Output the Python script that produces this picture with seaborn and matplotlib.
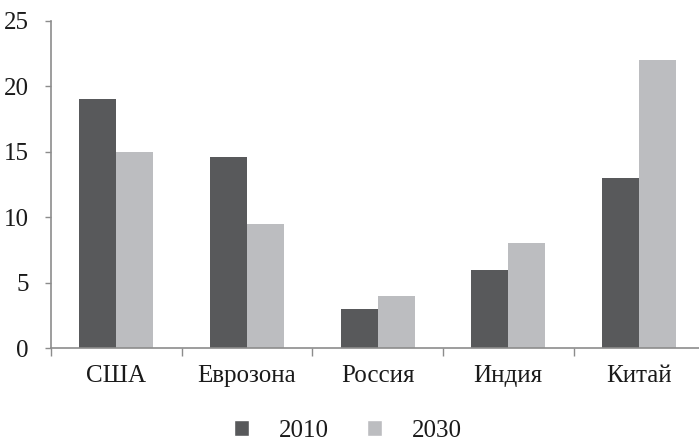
import numpy as np
import pandas as pd
import matplotlib
matplotlib.use("Agg")
import matplotlib.pyplot as plt
from matplotlib.patches import Patch
import seaborn as sns

# ── data ──────────────────────────────────────────────
regions = ["США", "Еврозона", "Россия", "Индия", "Китай"]
years = ["2010", "2030"]
vals_2010 = [19, 14.6, 3, 6, 13]
vals_2030 = [15, 9.5, 4, 8, 22]

DARK = "#58595b"
LIGHT = "#bcbdc0"
AXIS = "#8c8c8c"

df = pd.DataFrame({
    "region": regions * 2,
    "year": [years[0]] * len(regions) + [years[1]] * len(regions),
    "value": vals_2010 + vals_2030,
})

sns.set_style("white")
plt.rcParams["font.family"] = ["Liberation Serif", "DejaVu Serif"]
FS = 18

fig = plt.figure(figsize=(6.99, 4.44), dpi=100)
ax = fig.add_axes([0.073, 0.216, 0.927, 0.737])

sns.barplot(data=df, x="region", y="value", hue="year", order=regions,
            hue_order=years, palette=[DARK, LIGHT], width=0.567, gap=0,
            saturation=1, linewidth=0, ax=ax, legend=False)

ax.set_ylim(0, 25)
ax.set_yticks([0, 5, 10, 15, 20, 25])
ax.set_xlim(-0.5, 4.46)
ax.set_xlabel("")
ax.set_ylabel("")

# category boundaries as tick marks, labels as minor ticks at centres
ax.set_xticks(np.arange(len(regions)) - 0.5)
ax.set_xticklabels([])
ax.set_xticks(np.arange(len(regions)), minor=True)
ax.set_xticklabels(regions, minor=True)
ax.tick_params(axis="x", which="major", length=6, width=1, color=AXIS,
               direction="out", bottom=True)
ax.tick_params(axis="x", which="minor", length=0, pad=12, labelsize=FS,
               colors="#1a1a1a")
ax.tick_params(axis="y", length=4, width=1, color=AXIS, direction="out",
               left=True, pad=12, labelsize=FS, labelcolor="#1a1a1a")

for side in ["top", "right"]:
    ax.spines[side].set_visible(False)
for side in ["left", "bottom"]:
    ax.spines[side].set_color(AXIS)
    ax.spines[side].set_linewidth(1.2)

handles = [Patch(facecolor=DARK, label=years[0]),
           Patch(facecolor=LIGHT, label=years[1])]
leg = fig.legend(handles=handles, loc="center", bbox_to_anchor=(0.498, 0.03),
                 ncol=2, frameon=False, fontsize=FS, handlelength=0.62,
                 handleheight=0.62, handletextpad=1.2, columnspacing=1.5)
for t in leg.get_texts():
    t.set_color("#1a1a1a")

fig.savefig("out.png", dpi=100, facecolor="white")
